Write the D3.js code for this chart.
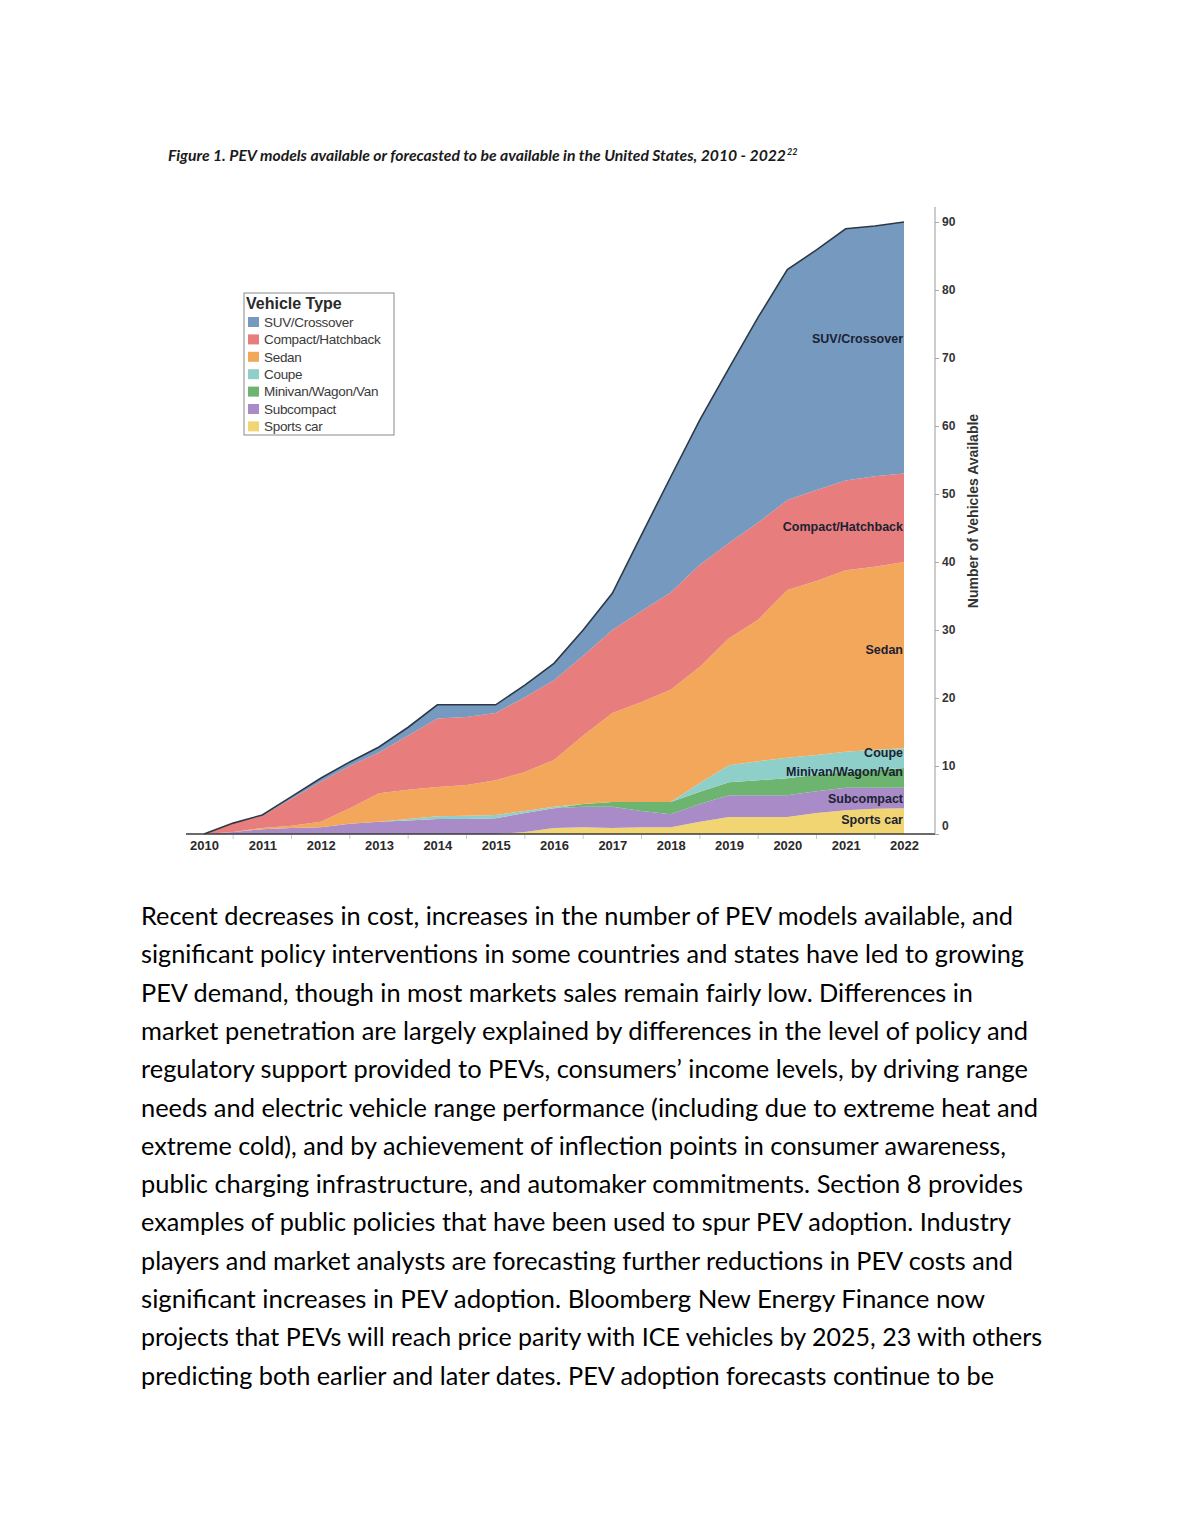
<!DOCTYPE html>
<html>
<head>
<meta charset="utf-8">
<script src="https://cdn.jsdelivr.net/npm/d3@7"></script>
<style>
  body { margin: 0; background: #fff; }
  svg { display: block; }
</style>
</head>
<body>
<svg width="1190" height="1540"></svg>
<script>
// half-year steps
const years = [2010, 2010.5, 2011, 2011.5, 2012, 2012.5, 2013, 2013.5, 2014, 2014.5, 2015, 2015.5,
  2016, 2016.5, 2017, 2017.5, 2018, 2018.5, 2019, 2019.5, 2020, 2020.5, 2021, 2021.5, 2022];

const sportsCar  = [0, 0, 0, 0, 0, 0, 0, 0, 0, 0, 0, 0.3, 0.9, 1.0, 0.9, 1.0, 1.0, 1.8, 2.5, 2.5, 2.5, 3.1, 3.5, 3.7, 3.8];
const subcompact = [0, 0.3, 0.7, 0.9, 1.0, 1.5, 1.8, 2.0, 2.2, 2.2, 2.3, 2.8, 2.9, 3.0, 3.1, 2.4, 1.9, 2.6, 3.2, 3.2, 3.2, 3.2, 3.3, 3.1, 3.0];
const minivan    = [0, 0, 0, 0, 0, 0, 0, 0, 0, 0, 0, 0, 0, 0.4, 0.7, 1.3, 1.8, 1.8, 1.9, 2.2, 2.5, 2.4, 2.3, 2.6, 2.9];
const coupe      = [0, 0, 0, 0, 0, 0, 0, 0.2, 0.4, 0.5, 0.5, 0.3, 0.2, 0, 0, 0, 0, 1.3, 2.5, 2.8, 3.0, 2.9, 3.0, 3.0, 2.9];
const sedan      = [0, 0, 0.2, 0.3, 0.8, 2.3, 4.2, 4.3, 4.3, 4.5, 5.1, 5.7, 6.9, 10.1, 13.1, 14.7, 16.5, 17.1, 18.7, 20.8, 24.7, 25.6, 26.7, 26.9, 27.4];
const compact    = [0, 1.3, 1.8, 4.0, 5.9, 6.2, 6.0, 8.0, 10.1, 10.0, 9.9, 11.0, 11.7, 11.7, 12.2, 13.4, 14.3, 15.0, 14.0, 14.3, 13.2, 13.4, 13.2, 13.3, 13.0];
const suv        = [0, 0, 0.1, 0.3, 0.5, 0.6, 0.8, 1.2, 2.0, 1.8, 1.2, 1.8, 2.5, 3.8, 5.4, 11.2, 17.0, 21.3, 25.7, 30.2, 33.9, 35.3, 37.0, 36.8, 37.0];

// stack order, bottom to top
const seriesNames = ['Sports car', 'Subcompact', 'Minivan/Wagon/Van', 'Coupe', 'Sedan', 'Compact/Hatchback', 'SUV/Crossover'];
const seriesValues = [sportsCar, subcompact, minivan, coupe, sedan, compact, suv];
const legendNames = ['SUV/Crossover', 'Compact/Hatchback', 'Sedan', 'Coupe', 'Minivan/Wagon/Van', 'Subcompact', 'Sports car'];
const yearLabels = [2010, 2011, 2012, 2013, 2014, 2015, 2016, 2017, 2018, 2019, 2020, 2021, 2022];
const yTickValues = [0, 10, 20, 30, 40, 50, 60, 70, 80, 90];

const titleText = 'Figure 1. PEV models available or forecasted to be available in the United States, 2010 - 2022';
const titleNote = '22';
const yAxisTitle = 'Number of Vehicles Available';
const legendTitle = 'Vehicle Type';

const paragraph = [
  'Recent decreases in cost, increases in the number of PEV models available, and',
  'significant policy interventions in some countries and states have led to growing',
  'PEV demand, though in most markets sales remain fairly low. Differences in',
  'market penetration are largely explained by differences in the level of policy and',
  'regulatory support provided to PEVs, consumers\u2019 income levels, by driving range',
  'needs and electric vehicle range performance (including due to extreme heat and',
  'extreme cold), and by achievement of inflection points in consumer awareness,',
  'public charging infrastructure, and automaker commitments. Section 8 provides',
  'examples of public policies that have been used to spur PEV adoption. Industry',
  'players and market analysts are forecasting further reductions in PEV costs and',
  'significant increases in PEV adoption. Bloomberg New Energy Finance now',
  'projects that PEVs will reach price parity with ICE vehicles by 2025, 23 with others',
  'predicting both earlier and later dates. PEV adoption forecasts continue to be'
];

// ---- styling / layout ----
const colors = {
  'SUV/Crossover': '#7599bf',
  'Compact/Hatchback': '#e77d7c',
  'Sedan': '#f2a75b',
  'Coupe': '#8fcfc9',
  'Minivan/Wagon/Van': '#6cb46f',
  'Subcompact': '#a88bc7',
  'Sports car': '#f1d572'
};
// small nudges of the in-chart labels from the band middle (px)
const labelShift = {
  'SUV/Crossover': -9, 'Compact/Hatchback': 9, 'Sedan': -6, 'Coupe': -6,
  'Minivan/Wagon/Van': -6, 'Subcompact': 1, 'Sports car': -1
};
const paraRight = [1013, 1024, 973, 1028, 1028, 1038, 1006, 1023, 1011, 1013, 985, 1042, 994];

const chartFont = '"Liberation Sans", Arial, sans-serif';
const docFont = 'Lato, "Open Sans", sans-serif';

const svg = d3.select('svg');

const x = d3.scaleLinear().domain([2010, 2022]).range([204, 904]);
const y = d3.scaleLinear().domain([0, 90]).range([834, 222]);

// table for the stack
const table = years.map((yr, i) => {
  const row = {year: yr};
  seriesNames.forEach((name, k) => { row[name] = seriesValues[k][i]; });
  return row;
});

const stacked = d3.stack().keys(seriesNames)(table);

const area = d3.area()
  .x(d => x(d.data.year))
  .y0(d => y(d[0]))
  .y1(d => y(d[1]));

svg.append('g')
  .selectAll('path')
  .data(stacked)
  .enter()
  .append('path')
  .attr('d', area)
  .attr('fill', d => colors[d.key]);

// dark outline along the total
const topLayer = stacked[stacked.length - 1];
svg.append('path')
  .datum(topLayer)
  .attr('d', d3.line().x(d => x(d.data.year)).y(d => y(d[1])))
  .attr('fill', 'none')
  .attr('stroke', '#2e3947')
  .attr('stroke-width', 1.6);

// labels inside the bands, at the right edge
const last = years.length - 1;
stacked.forEach(layer => {
  const p = layer[last];
  svg.append('text')
    .attr('x', x(2022) - 1)
    .attr('y', y((p[0] + p[1]) / 2) + labelShift[layer.key])
    .attr('dy', '0.35em')
    .attr('text-anchor', 'end')
    .attr('font-family', chartFont)
    .attr('font-weight', 'bold')
    .attr('font-size', '12.5px')
    .attr('fill', '#1b2232')
    .text(layer.key);
});

// x axis
const xAxis = d3.axisBottom(x)
  .tickValues(yearLabels)
  .tickFormat(d3.format('d'))
  .tickSize(0)
  .tickPadding(7);

const gx = svg.append('g')
  .attr('transform', 'translate(0,834)')
  .call(xAxis);
gx.select('.domain').remove();
gx.selectAll('text')
  .attr('font-family', chartFont)
  .attr('font-weight', 'bold')
  .attr('font-size', '13px')
  .attr('fill', '#2a2a2a');

// half-year boundary ticks
svg.append('g')
  .selectAll('line')
  .data(yearLabels.slice(0, -1))
  .enter()
  .append('line')
  .attr('x1', d => x(d + 0.5))
  .attr('x2', d => x(d + 0.5))
  .attr('y1', 835)
  .attr('y2', 839)
  .attr('stroke', '#c8c8c8');

svg.append('line')
  .attr('x1', 186).attr('x2', 935)
  .attr('y1', 834).attr('y2', 834)
  .attr('stroke', '#3a3a3a')
  .attr('stroke-width', 1.5);

// y axis on the right
const yAxis = d3.axisRight(y)
  .tickValues(yTickValues)
  .tickSize(4)
  .tickPadding(3);

const gy = svg.append('g')
  .attr('transform', 'translate(935,0)')
  .call(yAxis);
gy.select('.domain').remove();
gy.selectAll('.tick line').attr('stroke', '#aaa');
gy.selectAll('text')
  .attr('font-family', chartFont)
  .attr('font-weight', 'bold')
  .attr('font-size', '12px')
  .attr('fill', '#333')
  .attr('dy', d => d === 0 ? '-0.4em' : '0.32em');

svg.append('line')
  .attr('x1', 935).attr('x2', 935)
  .attr('y1', 207).attr('y2', 834)
  .attr('stroke', '#9a9a9a');

svg.append('text')
  .attr('transform', 'translate(978,511) rotate(-90)')
  .attr('text-anchor', 'middle')
  .attr('font-family', chartFont)
  .attr('font-weight', 'bold')
  .attr('font-size', '14px')
  .attr('fill', '#333')
  .text(yAxisTitle);

// legend
const legend = svg.append('g').attr('transform', 'translate(244,293)');
legend.append('rect')
  .attr('width', 150)
  .attr('height', 142)
  .attr('fill', '#fff')
  .attr('stroke', '#8a8a8a');
legend.append('text')
  .attr('x', 2)
  .attr('y', 16)
  .attr('font-family', chartFont)
  .attr('font-weight', 'bold')
  .attr('font-size', '16px')
  .attr('fill', '#2a2a2a')
  .text(legendTitle);
legend.selectAll('rect.key')
  .data(legendNames)
  .enter()
  .append('rect')
  .attr('class', 'key')
  .attr('x', 4)
  .attr('y', (d, i) => 24 + i * 17.4)
  .attr('width', 11)
  .attr('height', 10)
  .attr('fill', d => colors[d]);
legend.selectAll('text.key')
  .data(legendNames)
  .enter()
  .append('text')
  .attr('class', 'key')
  .attr('x', 20)
  .attr('y', (d, i) => 29 + i * 17.4)
  .attr('dy', '0.35em')
  .attr('font-family', chartFont)
  .attr('font-size', '13.5px')
  .attr('letter-spacing', '-0.3px')
  .attr('fill', '#3a3a3a')
  .text(d => d);

// figure caption
const cap = svg.append('text')
  .attr('x', 168)
  .attr('y', 161)
  .attr('font-family', docFont)
  .attr('font-weight', 'bold')
  .attr('font-style', 'italic')
  .attr('font-size', '14.5px')
  .attr('fill', '#1a1a1a');
cap.append('tspan')
  .attr('textLength', 618)
  .attr('lengthAdjust', 'spacingAndGlyphs')
  .text(titleText);
cap.append('tspan')
  .attr('x', 787)
  .attr('dy', -6)
  .attr('font-size', '9px')
  .text(titleNote);

// body text below the figure
svg.append('g')
  .selectAll('text')
  .data(paragraph)
  .enter()
  .append('text')
  .attr('x', 141)
  .attr('y', (d, i) => 925 + i * 38.3)
  .attr('font-family', docFont)
  .attr('font-size', '24.5px')
  .attr('fill', '#000')
  .attr('textLength', (d, i) => paraRight[i] - 141)
  .attr('lengthAdjust', 'spacingAndGlyphs')
  .text(d => d);
</script>
</body>
</html>
